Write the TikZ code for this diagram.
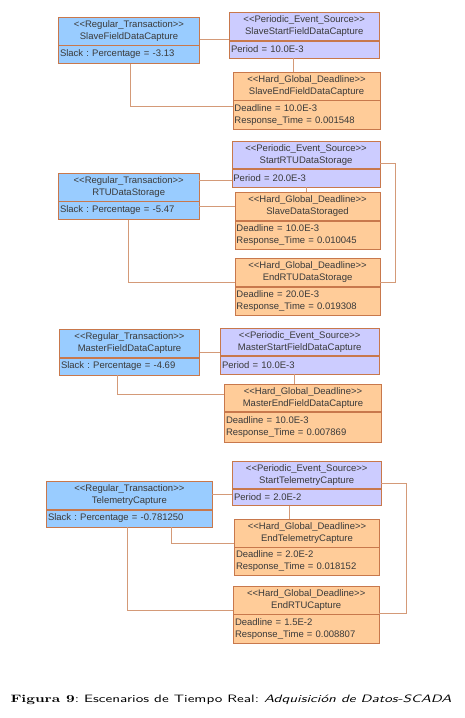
\documentclass[tikz,border=0pt]{standalone}
\usepackage{graphicx}
\usepackage{fontspec}
\newfontfamily\umlfont{Liberation Sans}
\definecolor{regblue}{HTML}{99CCFF}
\definecolor{perlav}{HTML}{CCCCFF}
\definecolor{hardpeach}{HTML}{FFCC99}
\definecolor{boxline}{HTML}{C8784C}
\definecolor{linkline}{HTML}{D49A78}
\definecolor{umltext}{HTML}{3A3A3A}
\newcommand{\stereo}[1]{<{}<#1>{}>}
\frenchspacing
\tikzset{
  regular/.style={draw=boxline, fill=regblue},
  periodic/.style={draw=boxline, fill=perlav},
  deadline/.style={draw=boxline, fill=hardpeach},
  head/.style={anchor=north west, align=center, inner xsep=1.5pt, inner ysep=0pt,
    minimum height=28pt, font=\umlfont\fontsize{9.5}{12}\selectfont, text=umltext},
  attrs/.style={anchor=north west, align=left, inner xsep=1.5pt, inner ysep=0pt,
    minimum height=18pt, font=\umlfont\fontsize{9.5}{12}\selectfont, text=umltext},
  attrs2/.style={attrs, minimum height=29pt},
  link/.style={draw=linkline, line width=0.8pt}
}
\begin{document}
\begin{tikzpicture}[x=1pt,y=1pt,yscale=-1]
\useasboundingbox (0,0) rectangle (464,718);
% Slave field data capture
\node[regular, head, text width=138pt] (sfdc) at (58.3,16.7) {\stereo{Regular\_Transaction}\\SlaveFieldDataCapture};
\node[regular, attrs, text width=138pt] (sfdc-b) at (sfdc.south west) {Slack : Percentage = -3.13};
\node[periodic, head, text width=146.4pt] (ssfdc) at (229.3,12.3) {\stereo{Periodic\_Event\_Source}\\SlaveStartFieldDataCapture};
\node[periodic, attrs, minimum height=17pt, text width=146.4pt] (ssfdc-b) at (ssfdc.south west) {Period = 10.0E-3};
\node[deadline, head, text width=144.3pt] (sefdc) at (232.7,72) {\stereo{Hard\_Global\_Deadline}\\SlaveEndFieldDataCapture};
\node[deadline, attrs2, text width=144.3pt] (sefdc-b) at (sefdc.south west) {Deadline = 10.0E-3\\Response\_Time = 0.001548};
\draw[link] ([yshift=-1.3pt]sfdc.east |- ssfdc.south) -- ([yshift=-1.3pt]ssfdc.south west);
\draw[link] ([xshift=-11pt]ssfdc-b.south) -- ([xshift=-11pt]ssfdc-b.south |- sefdc.north);
\draw[link] ([xshift=1.2pt]sfdc-b.south) |- ([yshift=5.7pt]sefdc-b.north west);
% RTU data storage
\node[regular, head, text width=137.4pt] (rtuds) at (58.3,172.7) {\stereo{Regular\_Transaction}\\RTUDataStorage};
\node[regular, attrs, text width=137.4pt] (rtuds-b) at (rtuds.south west) {Slack : Percentage = -5.47};
\node[periodic, head, minimum height=27.3pt, text width=145.3pt] (srtuds) at (231.7,141) {\stereo{Periodic\_Event\_Source}\\StartRTUDataStorage};
\node[periodic, attrs, text width=145.3pt] (srtuds-b) at (srtuds.south west) {Period = 20.0E-3};
\node[deadline, head, text width=142.3pt] (sds) at (234.7,192.3) {\stereo{Hard\_Global\_Deadline}\\SlaveDataStoraged};
\node[deadline, attrs, minimum height=28pt, text width=142.3pt] (sds-b) at (sds.south west) {Deadline = 10.0E-3\\Response\_Time = 0.010045};
\node[deadline, head, minimum height=28.6pt, text width=142.3pt] (ertuds) at (234.7,257.7) {\stereo{Hard\_Global\_Deadline}\\EndRTUDataStorage};
\node[deadline, attrs, minimum height=28pt, text width=142.3pt] (ertuds-b) at (ertuds.south west) {Deadline = 20.0E-3\\Response\_Time = 0.019308};
\draw[link] ([yshift=2.8pt]rtuds.east |- srtuds-b.west) -- ([yshift=2.8pt]srtuds-b.west);
\draw[link] (rtuds-b.east |- sds.west) -- (sds.west);
\draw[link] (srtuds-b.south) -- (srtuds-b.south |- sds.north);
\draw[link] (rtuds-b.south) |- ([yshift=-4pt]ertuds.south west);
\draw[link] ([yshift=-5pt]srtuds.south east) -- ++(15,0) |- ([yshift=-4pt]ertuds.south east);
% Master field data capture
\node[regular, head, text width=137pt] (mfdc) at (59.3,329.3) {\stereo{Regular\_Transaction}\\MasterFieldDataCapture};
\node[regular, attrs, minimum height=17pt, text width=137pt] (mfdc-b) at (mfdc.south west) {Slack : Percentage = -4.69};
\node[periodic, head, minimum height=27.3pt, text width=155.4pt] (msfdc) at (220.3,328) {\stereo{Periodic\_Event\_Source}\\MasterStartFieldDataCapture};
\node[periodic, attrs, text width=155.4pt] (msfdc-b) at (msfdc.south west) {Period = 10.0E-3};
\node[deadline, head, minimum height=27pt, text width=154pt] (mefdc) at (224.3,384.3) {\stereo{Hard\_Global\_Deadline}\\MasterEndFieldDataCapture};
\node[deadline, attrs, minimum height=30pt, text width=154pt] (mefdc-b) at (mefdc.south west) {Deadline = 10.0E-3\\Response\_Time = 0.007869};
\draw[link] ([yshift=-3.6pt]mfdc.east |- msfdc.south) -- ([yshift=-3.6pt]msfdc.south west);
\draw[link] ([xshift=-5.5pt]msfdc-b.south) -- ([xshift=-5.5pt]msfdc-b.south |- mefdc.north);
\draw[link] ([xshift=-12pt]mfdc-b.south) |- ([yshift=10pt]mefdc.north west);
% Telemetry capture
\node[regular, head, text width=162.7pt] (tc) at (46.3,481.3) {\stereo{Regular\_Transaction}\\TelemetryCapture};
\node[regular, attrs, minimum height=17pt, text width=162.7pt] (tc-b) at (tc.south west) {Slack : Percentage = -0.781250};
\node[periodic, head, minimum height=27.6pt, text width=145.4pt] (stc) at (232.3,460.7) {\stereo{Periodic\_Event\_Source}\\StartTelemetryCapture};
\node[periodic, attrs, minimum height=16.7pt, text width=145.4pt] (stc-b) at (stc.south west) {Period = 2.0E-2};
\node[deadline, head, text width=142pt] (etc) at (234.3,518.7) {\stereo{Hard\_Global\_Deadline}\\EndTelemetryCapture};
\node[deadline, attrs, minimum height=28.3pt, text width=142pt] (etc-b) at (etc.south west) {Deadline = 2.0E-2\\Response\_Time = 0.018152};
\node[deadline, head, text width=142.4pt] (ertuc) at (233.3,585.7) {\stereo{Hard\_Global\_Deadline}\\EndRTUCapture};
\node[deadline, attrs, minimum height=28.6pt, text width=142.4pt] (ertuc-b) at (ertuc.south west) {Deadline = 1.5E-2\\Response\_Time = 0.008807};
\draw[link] ([yshift=-3.3pt]tc.east |- stc-b.west) -- ([yshift=-3.3pt]stc-b.west);
\draw[link] ([xshift=-17pt]stc-b.south) -- ([xshift=-17pt]stc-b.south |- etc.north);
\draw[link] ([xshift=42pt]tc-b.south) |- ([yshift=-3.4pt]etc.south west);
\draw[link] ([xshift=-1.5pt]tc-b.south) |- ([yshift=-3.4pt]ertuc.south west);
\draw[link] ([yshift=-5pt]stc.south east) -- ++(25.6,0) |- ([yshift=-0.4pt]ertuc.south east);
% caption
\node[font=\fontsize{10.7}{13}\selectfont, inner sep=0pt] (caption) at (231,700) {\scalebox{1.415}[1]{\textbf{Figura 9}\textsf{: Escenarios de Tiempo Real: \itshape Adquisición de Datos-SCADA}}};
\end{tikzpicture}
\end{document}
